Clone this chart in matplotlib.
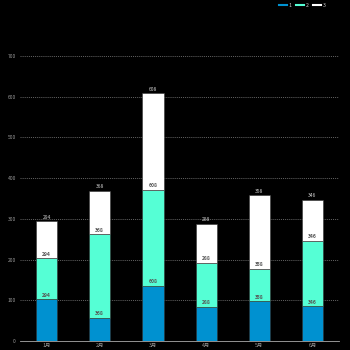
import matplotlib
matplotlib.use("Agg")
import matplotlib.pyplot as plt
import numpy as np

plt.rcParams['font.family'] = ['Noto Sans CJK SC', 'DejaVu Sans']

months = ["1月", "2月", "3月", "4月", "5月", "6月"]
series1 = [102, 56, 135, 84, 97, 85]
series2 = [101, 206, 236, 108, 80, 161]
series3 = [91, 106, 237, 96, 181, 100]
series_names = ["1", "2", "3"]
colors = ["#0091d0", "#55ffd5", "#ffffff"]
y_ticks = [0, 100, 200, 300, 400, 500, 600, 700]

totals = [a + b + c for a, b, c in zip(series1, series2, series3)]

fig = plt.figure(figsize=(3.5, 3.5), dpi=100, facecolor="black")
ax = fig.add_axes([0.057, 0.026, 0.912, 0.814], facecolor="black")

x = np.arange(len(months))
width = 0.4
bottom = np.zeros(len(months))
handles = []
for vals, col, name in zip([series1, series2, series3], colors, series_names):
    ax.bar(x, vals, width, bottom=bottom, color=col, edgecolor="#333333",
           linewidth=0.4, zorder=3, label=name)
    bottom = bottom + np.array(vals)
    inner = col != colors[2]
    for xi, top, tot in zip(x, bottom, totals):
        ax.text(xi, top + 4, str(tot), ha="center", va="bottom", fontsize=3.6,
                color="#555555" if inner else "#cccccc",
                fontweight="bold" if inner else "normal", zorder=5)
    handles.append(plt.Line2D([0], [0], color=col, lw=1.5))

ax.set_xlim(-0.5, len(months) - 0.5)
ax.set_ylim(0, 700)
ax.set_yticks(y_ticks)
ax.set_yticklabels([str(t) for t in y_ticks], fontsize=3.6, color="#999999")
ax.set_xticks(x)
ax.set_xticklabels(months, fontsize=3.8, color="#999999")
ax.tick_params(axis="y", length=0, pad=3)
ax.tick_params(axis="x", length=0, pad=1.5)
ax.grid(axis="y", color="#888888", linestyle=(0, (1.5, 1.5)), linewidth=0.5, zorder=0)
for s in ["top", "right", "left"]:
    ax.spines[s].set_visible(False)
ax.spines["bottom"].set_color("#aaaaaa")
ax.spines["bottom"].set_linewidth(0.6)
ax.spines["bottom"].set_zorder(4)

fig.legend(handles, series_names, loc="upper right", bbox_to_anchor=(0.945, 1.005),
           ncol=3, frameon=False, fontsize=3.8, labelcolor="#cccccc",
           handlelength=1.5, handletextpad=0.4, columnspacing=0.8)

fig.savefig("out.png", dpi=100, facecolor="black")
